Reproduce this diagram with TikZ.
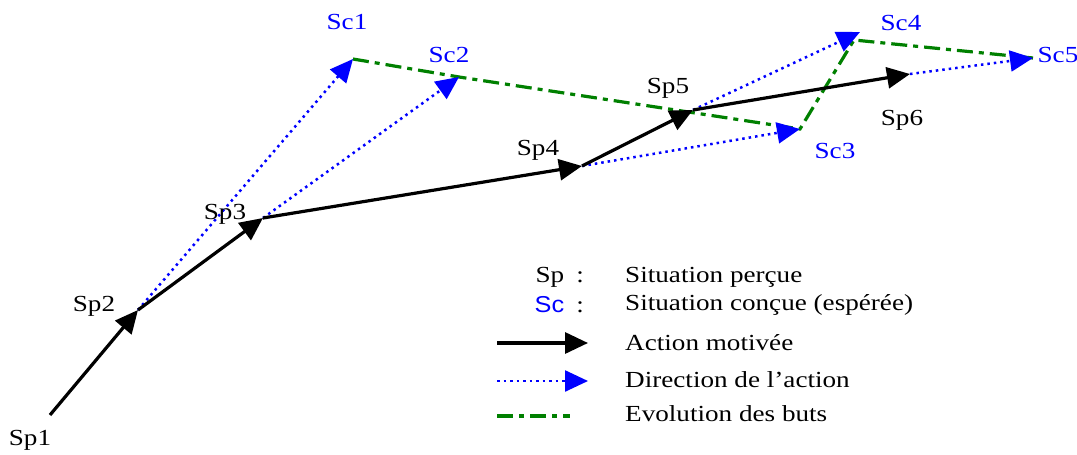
\documentclass[tikz,border=0pt]{standalone}
\usepackage{fontspec}
\setmainfont{Liberation Serif}[FakeStretch=1.18]
\newfontfamily\lgsans{Liberation Sans}[FakeStretch=1.1]
\usetikzlibrary{arrows.meta}
\begin{document}
\begin{tikzpicture}[x=1pt,y=-1pt,
  act/.style={line width=3.2pt,black,-{Triangle[length=23pt,width=21pt]}},
  dir/.style={line width=2.5pt,blue,dash pattern=on 2.5pt off 4pt,-{Triangle[length=23pt,width=21pt]}},
  goal/.style={line width=3.2pt,green!50!black,dash pattern=on 16pt off 6pt on 5pt off 6pt},
  lbl/.style={font=\fontsize{23}{26}\selectfont,inner sep=0pt},
  sclbl/.style={lbl,text=blue}]
\useasboundingbox (0,0) rectangle (1077,455);
% points
\coordinate (Sp1) at (50,415);
\coordinate (Sp2) at (138,310);
\coordinate (Sp3) at (263,218);
\coordinate (Sp4) at (582,166);
\coordinate (Sp5) at (693,110);
\coordinate (Sp6) at (910,74);
\coordinate (Sc1) at (353,59);
\coordinate (Sc2) at (459,77);
\coordinate (Sc3) at (800,129);
\coordinate (Sc4) at (860,32);
\coordinate (Sc5) at (1033,58);
% goal evolution
\draw[goal] (Sc1) -- (Sc2) -- (Sc3) -- ([xshift=-6pt,yshift=-8pt]Sc4.center) -- (Sc5);
% directions
\draw[dir] (Sp2) -- (Sc1);
\draw[dir] (Sp3) -- (Sc2);
\draw[dir] (Sp4) -- (Sc3);
\draw[dir] (Sp5) -- (Sc4);
\draw[dir] (Sp6) -- (Sc5);
% actions
\draw[act] (Sp1) -- (Sp2);
\draw[act] (Sp2) -- (Sp3);
\draw[act] (Sp3) -- (Sp4);
\draw[act] (Sp4) -- (Sp5);
\draw[act] (Sp5) -- (Sp6);
% labels
\node[lbl] (lSp1) at (30,440) {Sp1};
\node[lbl] (lSp2) at (94,306) {Sp2};
\node[lbl] (lSp3) at (225,214) {Sp3};
\node[lbl] (lSp4) at (538,150) {Sp4};
\node[lbl] (lSp5) at (668,88) {Sp5};
\node[lbl] (lSp6) at (902,120) {Sp6};
\node[sclbl] (lSc1) at (347,22) {Sc1};
\node[sclbl] (lSc2) at (449,55) {Sc2};
\node[sclbl] (lSc3) at (835,151) {Sc3};
\node[sclbl] (lSc4) at (901,23) {Sc4};
\node[sclbl] (lSc5) at (1058,55) {Sc5};
% legend
\node[lbl,anchor=east] (kSp) at (584,277) {Sp\hspace{12pt}:};
\node[lbl,anchor=east] (kSc) at (584,305) {{\color{blue}\lgsans Sc}\hspace{12pt}:};
\coordinate (a1) at (497,343); \coordinate (a2) at (588,343);
\coordinate (b1) at (497,381); \coordinate (b2) at (588,381);
\coordinate (c1) at (497,416); \coordinate (c2) at (570,416);
\draw[act] (a1) -- (a2);
\draw[dir] (b1) -- (b2);
\draw[goal] (c1) -- (c2);
\node[lbl,anchor=west] (tSp) at (625,277) {Situation perçue};
\node[lbl,anchor=west] (tSc) at (625,305) {Situation conçue (espérée)};
\node[lbl,anchor=west] (tA) at (625,343) {Action motivée};
\node[lbl,anchor=west] (tD) at (625,380) {Direction de l'action};
\node[lbl,anchor=west] (tE) at (625,414) {Evolution des buts};
\end{tikzpicture}
\end{document}
